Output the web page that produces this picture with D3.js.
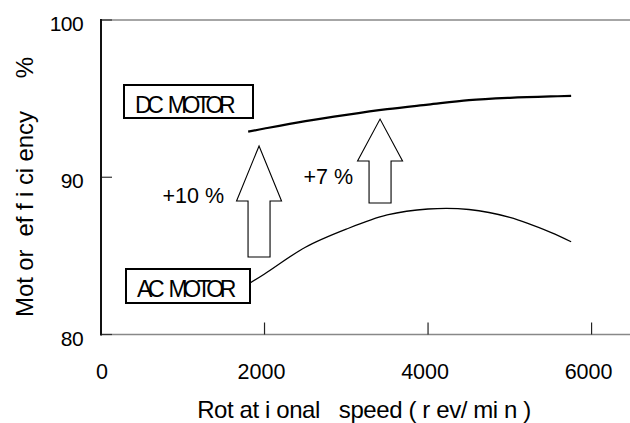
<!DOCTYPE html>
<html><head><meta charset="utf-8">
<script src="https://cdn.jsdelivr.net/npm/d3@7/dist/d3.min.js"></script>
<style>body{margin:0;background:#fff}svg{display:block}text{font-family:"Liberation Sans",Arial,sans-serif;fill:#000}</style>
</head><body>
<svg id="c" width="630" height="423"></svg>
<script>
// data
const speeds = [1800, 2000, 2500, 3000, 3500, 4000, 4500, 5000, 5500, 5750];
const dcMotor = [92.9, 93.1, 93.57, 93.97, 94.33, 94.62, 94.9, 95.05, 95.14, 95.17];
const acMotor = [83.2, 83.85, 85.55, 86.7, 87.6, 87.98, 87.95, 87.45, 86.5, 85.9];
const xTicks = [0, 2000, 4000, 6000];
const yTicks = [80, 90, 100];
const seriesLabels = ["DC MOTOR", "AC MOTOR"];
const gainLabels = ["+10 %", "+7 %"];
// arrows: center speed, bottom, head base, tip (efficiency %)
const arrows = [
  {x: 1933, y0: 84.93, yh: 88.49, y1: 91.99},
  {x: 3413, y0: 88.36, yh: 91.03, y1: 93.70}
];

const svg = d3.select("#c");
const x = d3.scaleLinear().domain([0, 6470]).range([101, 630]);
const y = d3.scaleLinear().domain([80, 100]).range([334.5, 20]);

// frame lines
svg.append("line").attr("x1", x(0)).attr("x2", 630).attr("y1", y(100)).attr("y2", y(100))
  .attr("stroke", "#888").attr("stroke-width", 1.5);
svg.append("line").attr("x1", x(0)).attr("x2", 630).attr("y1", y(80)).attr("y2", y(80))
  .attr("stroke", "#888").attr("stroke-width", 1.5);

// y ticks (inward)
yTicks.forEach(v => {
  svg.append("line").attr("x1", x(0)).attr("x2", x(0) + 11).attr("y1", y(v)).attr("y2", y(v))
    .attr("stroke", "#333").attr("stroke-width", 1.2);
  svg.append("text").attr("x", 83).attr("y", y(v) + 11).attr("text-anchor", "end")
    .attr("font-size", 21).attr("letter-spacing", -0.6).text(v);
});
// x ticks (inward)
xTicks.forEach(v => {
  if (v > 0) svg.append("line").attr("x1", x(v)).attr("x2", x(v)).attr("y1", y(80)).attr("y2", y(80) - 12)
    .attr("stroke", "#222").attr("stroke-width", 1.2);
  svg.append("text").attr("x", x(v) - (v > 0 ? 3 : -1)).attr("y", 379).attr("text-anchor", "middle")
    .attr("font-size", 21.5).text(v);
});
// left axis
svg.append("line").attr("x1", x(0)).attr("x2", x(0)).attr("y1", y(100) - 1).attr("y2", y(80) + 1)
  .attr("stroke", "#111").attr("stroke-width", 2);

// axis titles
svg.append("text").attr("x", 364).attr("y", 418).attr("text-anchor", "middle")
  .attr("font-size", 24).attr("letter-spacing", -0.4).style("white-space", "pre")
  .text("Rot at i onal   speed ( r ev/ mi n )");
svg.append("text").attr("transform", "translate(33,187) rotate(-90)").attr("text-anchor", "middle")
  .attr("font-size", 24).attr("letter-spacing", -0.1).style("white-space", "pre")
  .text("Mot or  ef f i ci ency     %");

// curves
const line = d3.line().x((d, i) => x(speeds[i])).y(d => y(d)).curve(d3.curveCatmullRom);
svg.append("path").datum(dcMotor).attr("d", line).attr("fill", "none")
  .attr("stroke", "#000").attr("stroke-width", 2.2);
svg.append("path").datum(acMotor).attr("d", line).attr("fill", "none")
  .attr("stroke", "#000").attr("stroke-width", 1.3);

// arrows
arrows.forEach(a => {
  const cx = x(a.x), hw = 22.5, sw = 11;
  const pts = [[cx - sw, y(a.y0)], [cx - sw, y(a.yh)], [cx - hw, y(a.yh)], [cx, y(a.y1)],
               [cx + hw, y(a.yh)], [cx + sw, y(a.yh)], [cx + sw, y(a.y0)]];
  svg.append("polygon").attr("points", pts.map(p => p.join(",")).join(" "))
    .attr("fill", "#fff").attr("stroke", "#000").attr("stroke-width", 1.1);
});
// gain labels
svg.append("text").attr("x", x(arrows[0].x) - 35).attr("y", 203).attr("text-anchor", "end")
  .attr("font-size", 21.5).text(gainLabels[0]);
svg.append("text").attr("x", x(arrows[1].x) - 27).attr("y", 184).attr("text-anchor", "end")
  .attr("font-size", 21.5).text(gainLabels[1]);

// series label boxes
const boxes = [
  {x0: 124, y0: 85, w: 129, h: 33, tx: 135, ty: 113},
  {x0: 126, y0: 269, w: 124, h: 34, tx: 137, ty: 297}
];
boxes.forEach((b, i) => {
  svg.append("rect").attr("x", b.x0).attr("y", b.y0).attr("width", b.w).attr("height", b.h)
    .attr("fill", "#fff").attr("stroke", "#000").attr("stroke-width", 2);
  svg.append("text").attr("x", b.tx).attr("y", b.ty).attr("font-size", 23)
    .attr("letter-spacing", -4.3).attr("word-spacing", 6).text(seriesLabels[i]);
});
</script>
</body></html>
